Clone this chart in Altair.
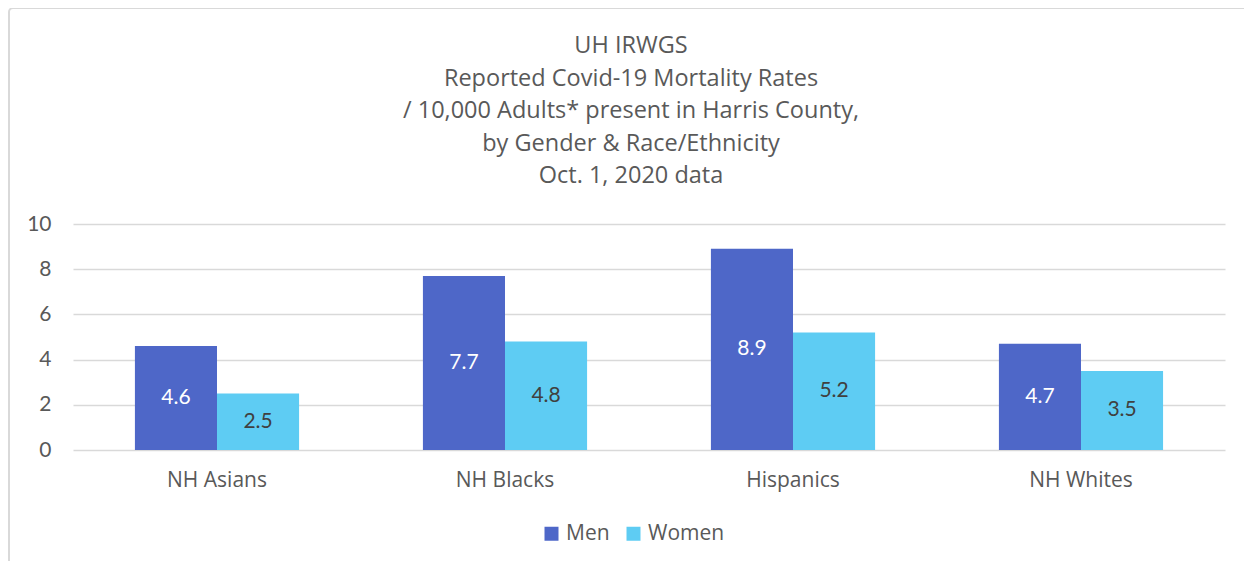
import altair as alt
import pandas as pd

groups = ["NH Asians", "NH Blacks", "Hispanics", "NH Whites"]
genders = ["Men", "Women"]
men = [4.6, 7.7, 8.9, 4.7]
women = [2.5, 4.8, 5.2, 3.5]
colors = ["#4E67C8", "#5ECCF3"]
title_lines = [
    "UH IRWGS",
    "Reported Covid-19 Mortality Rates",
    "/ 10,000 Adults* present in Harris County,",
    "by Gender & Race/Ethnicity",
    "Oct. 1, 2020 data",
]

rows = []
for g, m, w in zip(groups, men, women):
    rows.append({"group": g, "gender": "Men", "value": m})
    rows.append({"group": g, "gender": "Women", "value": w})
df = pd.DataFrame(rows)

GREY = "#595959"

x_enc = alt.X(
    "group:N",
    sort=groups,
    title=None,
    scale=alt.Scale(paddingInner=0.43, paddingOuter=0.215),
    axis=alt.Axis(labelAngle=0, labelFont="Open Sans", labelFontSize=21,
                  labelColor=GREY, labelPadding=19, domain=False, ticks=False,
                  grid=False),
)
xoff = alt.XOffset("gender:N", sort=genders)

base = alt.Chart(df)

bars = base.mark_bar().encode(
    x=x_enc,
    xOffset=xoff,
    y=alt.Y("value:Q", title=None,
            scale=alt.Scale(domain=[0, 10]),
            axis=alt.Axis(values=[0, 2, 4, 6, 8, 10], labelFont="Lato",
                          labelFontSize=21, labelColor=GREY, labelPadding=22,
                          domain=False, ticks=False, gridColor="#d9d9d9",
                          gridWidth=1.5)),
    color=alt.Color("gender:N", sort=genders,
                    scale=alt.Scale(domain=genders, range=colors),
                    legend=alt.Legend(title=None, orient="none", direction="horizontal",
                                      legendX=468, legendY=299,
                                      symbolType="square", symbolSize=196,
                                      symbolStrokeWidth=0, symbolOpacity=1,
                                      labelFont="Open Sans", labelFontSize=21,
                                      labelColor=GREY, labelOffset=4,
                                      columnPadding=13)),
)

labels = base.transform_calculate(mid="datum.value / 2").mark_text(
    font="Lato", fontSize=21, baseline="middle", align="center"
).encode(
    x=alt.X("group:N", sort=groups),
    xOffset=xoff,
    y=alt.Y("mid:Q"),
    text=alt.Text("value:Q", format=".1f"),
    color=alt.condition(alt.datum.gender == "Men", alt.value("white"), alt.value("#404040")),
)

one = pd.DataFrame({"a": [0]})

frame = alt.Chart(one).mark_rect(
    fill="transparent", stroke="#d9d9d9", strokeWidth=2, cornerRadius=4
).encode(
    x=alt.value(-64), x2=alt.value(1260),
    y=alt.value(-216), y2=alt.value(400),
)

title = alt.Chart(one).mark_text(
    text=title_lines, font="Open Sans", fontSize=23.5, color=GREY,
    lineHeight=32.5, align="center", baseline="middle"
).encode(
    x=alt.value(558), y=alt.value(-178),
)

chart = alt.layer(frame, title, bars, labels).properties(
    width=1152,
    height=226,
    autosize=alt.AutoSizeParams(type="none"),
    padding={"left": 65, "top": 216, "right": 19, "bottom": 111},
).configure_view(stroke=None)

chart.save("out.html", embed_options={"renderer": "svg", "actions": False})
